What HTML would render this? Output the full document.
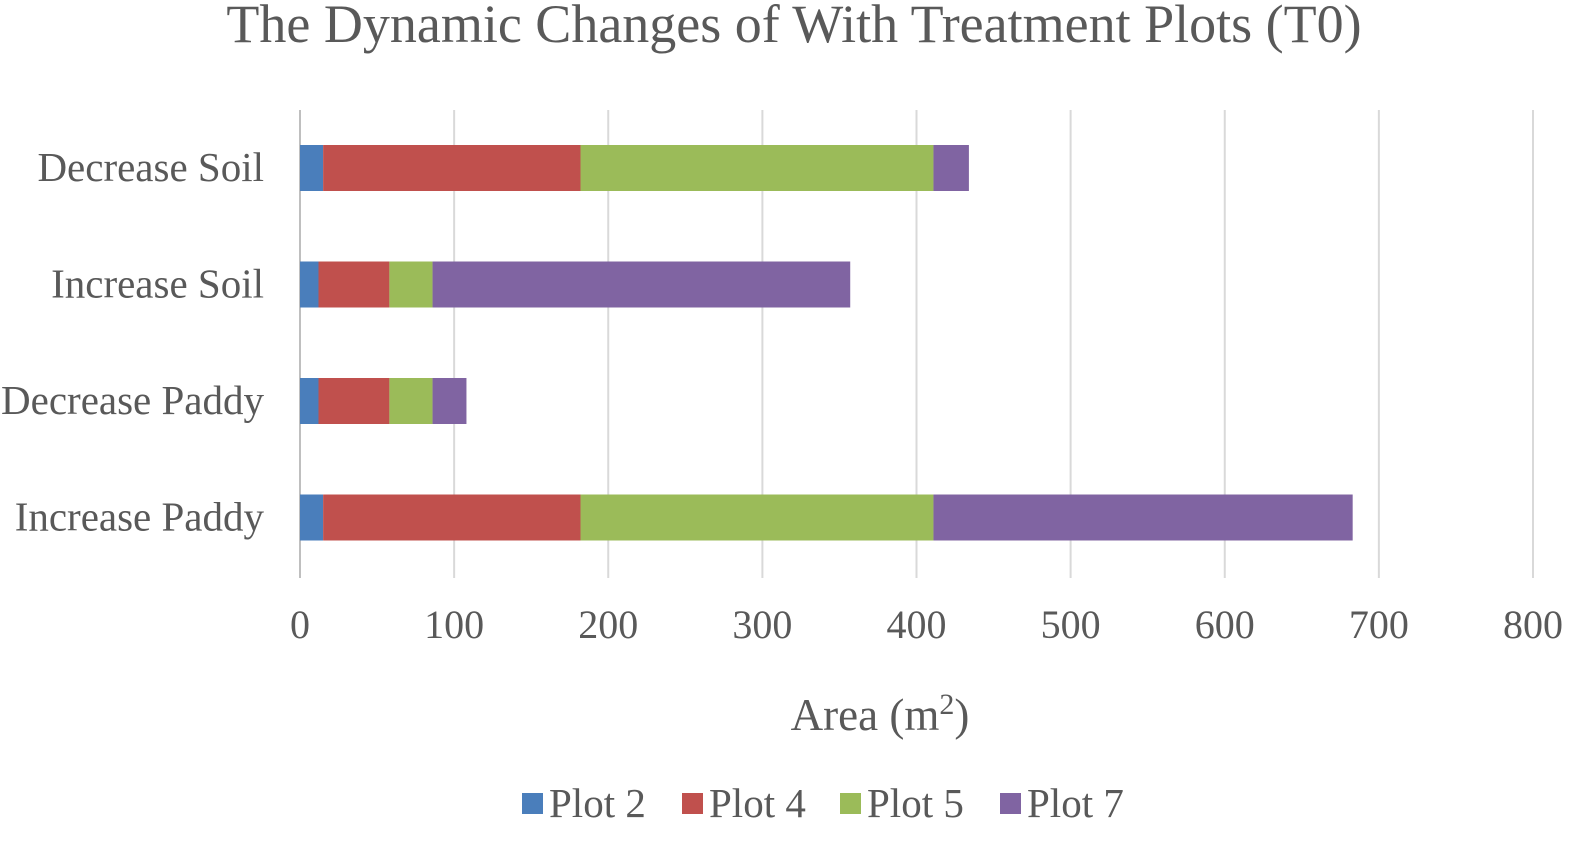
<!DOCTYPE html>
<html><head><meta charset="utf-8"><style>
body{margin:0;background:#fff;}
svg text{font-family:"Liberation Serif",serif;fill:#595959;}
</style></head><body>
<svg id="chart" width="1582" height="838">
<text x="794" y="42" font-size="54" text-anchor="middle">The Dynamic Changes of With Treatment Plots (T0)</text>
<g id="grid"></g><g id="bars"></g><g id="labels"></g>
<text x="880" y="730" font-size="45" text-anchor="middle">Area (m<tspan dy="-16" font-size="30">2</tspan><tspan dy="16">)</tspan></text>
<g id="legend"></g>
</svg>
<script>
const categories=["Decrease Soil","Increase Soil","Decrease Paddy","Increase Paddy"];
const seriesNames=["Plot 2","Plot 4","Plot 5","Plot 7"];
const plot2=[15,12,12,15];
const plot4=[167,46,46,167];
const plot5=[229,28,28,229];
const plot7=[23,271,22,272];
const ticks=[0,100,200,300,400,500,600,700,800];
const colors=["#4a7ebb","#c0504d","#9bbb59","#8064a2"];
const series=[plot2,plot4,plot5,plot7];
const NS="http://www.w3.org/2000/svg";
const x=v=>300+v*(1533-300)/800;
const yc=i=>168+i*116.5;
function mk(t,a,p){const e=document.createElementNS(NS,t);for(const k in a)e.setAttribute(k,a[k]);p.appendChild(e);return e;}
const G=document.getElementById('grid'),B=document.getElementById('bars'),L=document.getElementById('labels'),LG=document.getElementById('legend');
ticks.forEach(t=>{
 const l=mk('line',{x1:x(t),x2:x(t),y1:110,y2:578,stroke:t===0?'#bfbfbf':'#d9d9d9','stroke-width':2},G);
 
 
 const tx=mk('text',{x:x(t),y:638,'font-size':40,'text-anchor':'middle'},L);tx.textContent=t;
 
 
});
categories.forEach((c,i)=>{
 const tx=mk('text',{x:264,y:yc(i)+13,'font-size':41,'text-anchor':'end'},L);tx.textContent=c;
 
 
 let acc=0;
 series.forEach((s,j)=>{
  const r=mk('rect',{x:x(acc),y:yc(i)-23,width:x(acc+s[i])-x(acc),height:46,fill:colors[j]},B);
  
  
  acc+=s[i];
 });
});
const lx=[522,682,840,1000];
seriesNames.forEach((n,j)=>{
 const r=mk('rect',{x:lx[j],y:793,width:21,height:21,fill:colors[j]},LG);
 
 
 const t=mk('text',{x:lx[j]+27,y:817,'font-size':41},LG);t.textContent=n;
 
 
});
</script>
</body></html>
